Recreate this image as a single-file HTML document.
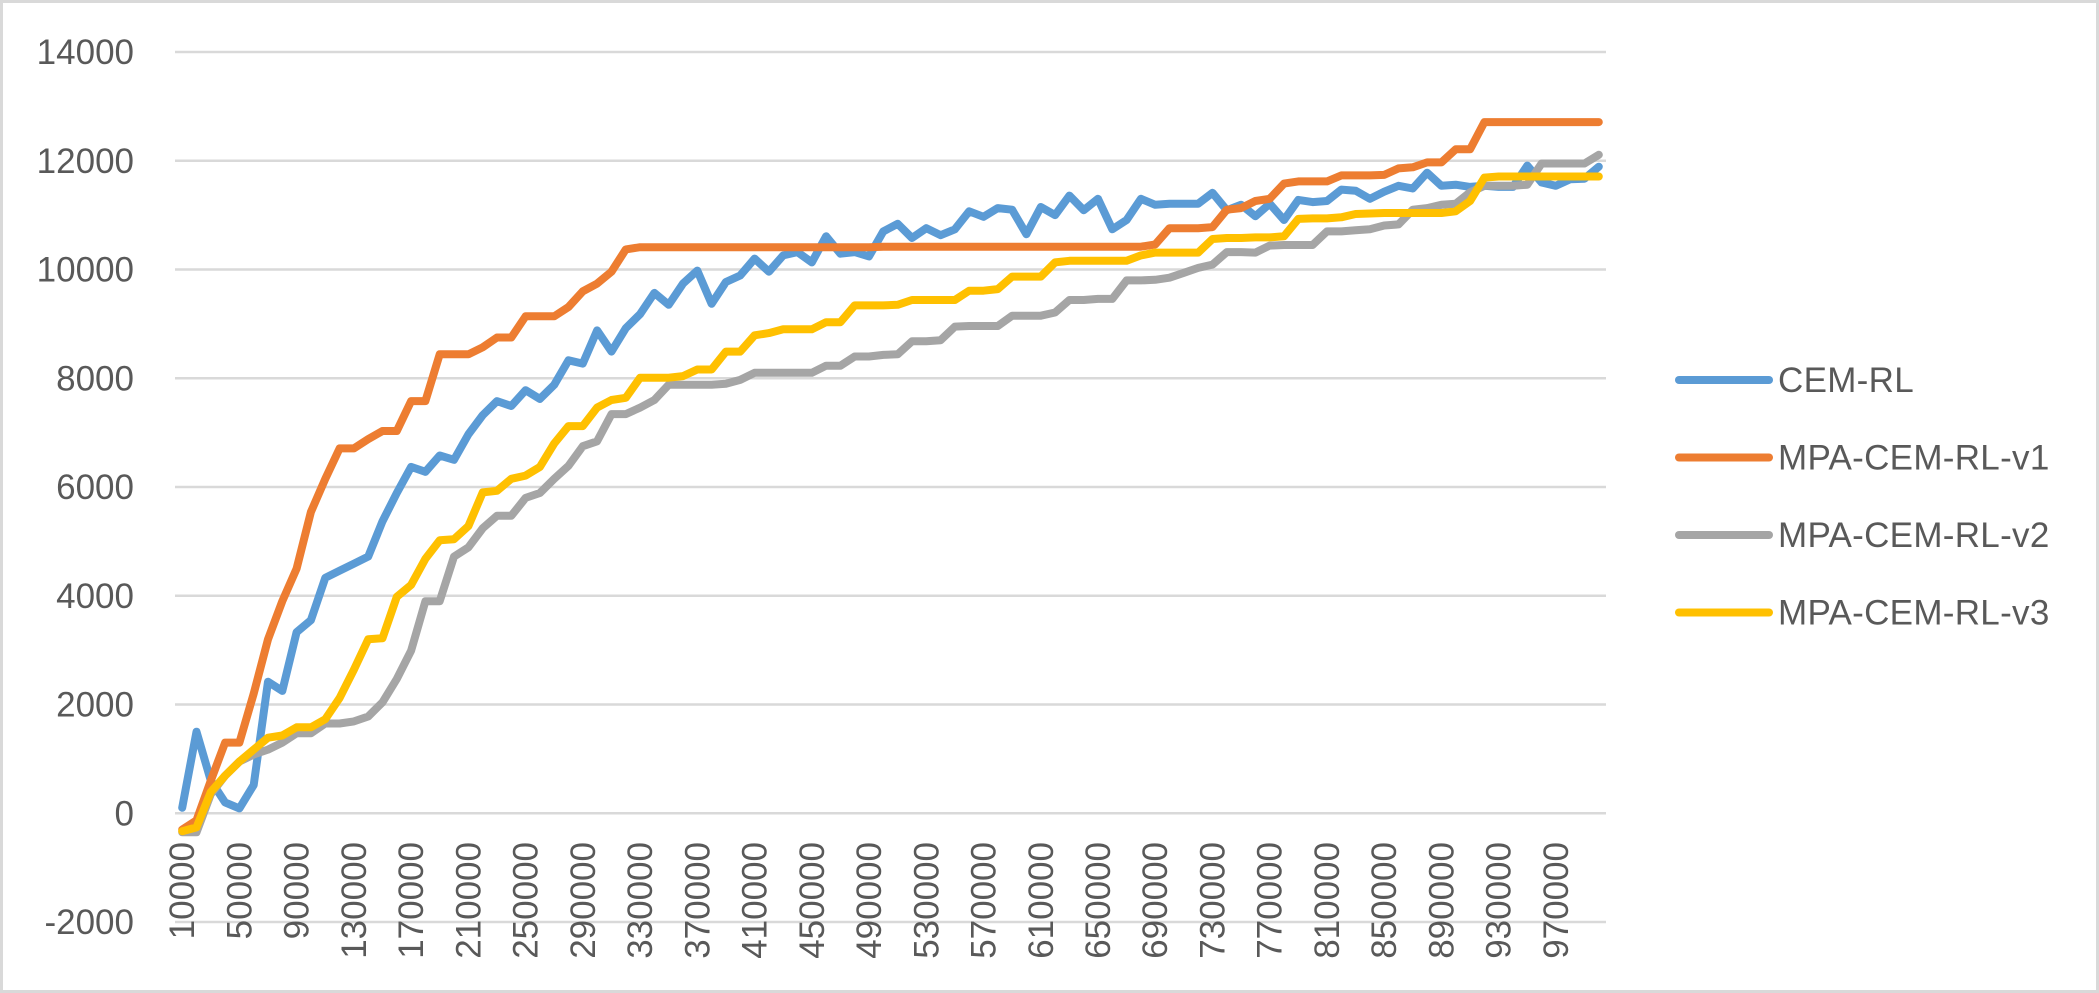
<!DOCTYPE html>
<html><head><meta charset="utf-8">
<style>
html,body{margin:0;padding:0;background:#fff;}
svg{display:block;}
text{font-family:"Liberation Sans",sans-serif;fill:#595959;}
</style></head>
<body>
<svg id="chart" width="2099" height="993" viewBox="0 0 2099 993" xmlns="http://www.w3.org/2000/svg">
<rect x="1.5" y="1.5" width="2096" height="990" fill="#fff" stroke="#D9D9D9" stroke-width="3"/>
<g id="grid"></g>
<g id="yticks"></g>
<g id="xticks"></g>
<g id="series"></g>
<g id="legend"></g>
</svg>
<script>
const yTicks = [-2000,0,2000,4000,6000,8000,10000,12000,14000];
const seriesNames = ["CEM-RL","MPA-CEM-RL-v1","MPA-CEM-RL-v2","MPA-CEM-RL-v3"];
const seriesColors = ["#5B9BD5","#ED7D31","#A5A5A5","#FFC000"];
const cemRL = [100,1500,600,200,90,520,2420,2250,3330,3550,4330,4460,4590,4720,5370,5890,6370,6280,6580,6500,6970,7320,7580,7490,7780,
7620,7880,8330,8270,8880,8490,8920,9180,9570,9350,9740,9980,9370,9770,9890,10200,9960,10260,10320,10130,10610,10290,10320,10240,10700,
10840,10580,10760,10630,10740,11070,10970,11130,11100,10650,11150,11000,11360,11090,11300,10740,10910,11300,11190,11210,11210,11210,11410,11090,11190,
10980,11210,10910,11280,11240,11260,11470,11450,11300,11430,11540,11490,11780,11540,11560,11520,11540,11520,11520,11910,11600,11540,11660,11670,11890];
const v1 = [-300,-130,600,1300,1300,2200,3200,3900,4500,5540,6150,6710,6710,6880,7030,7030,7580,7580,8440,8440,8440,8570,8750,8750,9140,
9140,9140,9310,9600,9740,9960,10370,10410,10410,10410,10410,10410,10410,10410,10410,10410,10410,10410,10410,10410,10410,10410,10410,10410,10420,
10420,10420,10420,10420,10420,10420,10420,10420,10420,10420,10420,10420,10420,10420,10420,10420,10420,10420,10460,10760,10760,10760,10780,11100,11130,
11260,11300,11580,11620,11620,11620,11730,11730,11730,11740,11860,11880,11970,11970,12210,12210,12710,12710,12710,12710,12710,12710,12710,12710,12710];
const v2 = [-350,-350,350,690,950,1080,1170,1300,1470,1470,1650,1650,1690,1780,2040,2470,2990,3900,3900,4720,4890,5240,5470,5470,5800,
5890,6150,6390,6750,6840,7340,7340,7460,7600,7880,7880,7880,7880,7900,7970,8100,8100,8100,8100,8100,8230,8230,8400,8400,8430,
8440,8680,8680,8700,8950,8960,8960,8960,9150,9150,9150,9210,9440,9440,9460,9460,9800,9800,9810,9850,9940,10030,10090,10320,10320,
10310,10440,10450,10450,10450,10700,10700,10720,10740,10810,10830,11100,11130,11190,11210,11420,11540,11540,11540,11560,11950,11950,11950,11950,12110];
const v3 = [-330,-260,390,690,950,1170,1390,1430,1580,1580,1730,2120,2640,3200,3220,3980,4200,4680,5020,5040,5280,5900,5930,6150,6210,
6370,6800,7120,7120,7460,7600,7640,8010,8010,8010,8040,8160,8160,8490,8490,8790,8830,8900,8900,8900,9030,9030,9340,9340,9340,
9350,9440,9440,9440,9440,9610,9610,9640,9870,9870,9870,10130,10160,10160,10160,10160,10160,10260,10310,10310,10310,10310,10560,10580,10580,
10590,10590,10610,10930,10940,10940,10960,11020,11030,11040,11040,11040,11040,11040,11070,11260,11690,11710,11710,11710,11710,11710,11710,11710,11710];
const categories = Array.from({length:100},(_,i)=>String(10000*(i+1)));
const seriesData = [cemRL, v1, v2, v3];

const NS="http://www.w3.org/2000/svg";
const plotL=175, plotR=1606, yTop=52, yBot=922, yMin=-2000, yMax=14000;
function yScale(v){return yBot-(v-yMin)/(yMax-yMin)*(yBot-yTop);}
function xScale(i){return plotL+(plotR-plotL)/categories.length*(i+0.5);}
function mk(tag,attrs,parent){const e=document.createElementNS(NS,tag);for(const k in attrs)e.setAttribute(k,attrs[k]);parent.appendChild(e);return e;}

const grid=document.getElementById('grid');
const yt=document.getElementById('yticks');
yTicks.forEach(v=>{
  const l=mk('line',{x1:plotL,x2:plotR,y1:yScale(v),y2:yScale(v),stroke:'#D9D9D9','stroke-width':2.5},grid);
  
  
  const t=mk('text',{x:134,y:yScale(v)+12,'text-anchor':'end','font-size':35},yt);
  t.textContent=String(v);
  
  
});
const xt=document.getElementById('xticks');
categories.forEach((c,i)=>{
  if(i%4!==0)return;
  const x=xScale(i)+12, y=842;
  const t=mk('text',{x:x,y:y,'text-anchor':'end','font-size':35,transform:`rotate(-90 ${x} ${y})`},xt);
  t.textContent=c;
  
  
});
const sg=document.getElementById('series');
seriesData.forEach((d,s)=>{
  const pts=d.map((v,i)=>xScale(i).toFixed(1)+','+yScale(v).toFixed(1)).join(' ');
  const p=mk('polyline',{points:pts,fill:'none',stroke:seriesColors[s],'stroke-width':8,'stroke-linejoin':'round','stroke-linecap':'round'},sg);
  
  
});
const lg=document.getElementById('legend');
seriesNames.forEach((n,s)=>{
  const y=380+77.5*s;
  const g=mk('g',{},lg);
  
  
  mk('line',{x1:1679,x2:1769,y1:y,y2:y,stroke:seriesColors[s],'stroke-width':8,'stroke-linecap':'round'},g);
  const t=mk('text',{x:1778,y:y+12,'font-size':35,'letter-spacing':0.3},g);
  t.textContent=n;
});
</script>
</body></html>
